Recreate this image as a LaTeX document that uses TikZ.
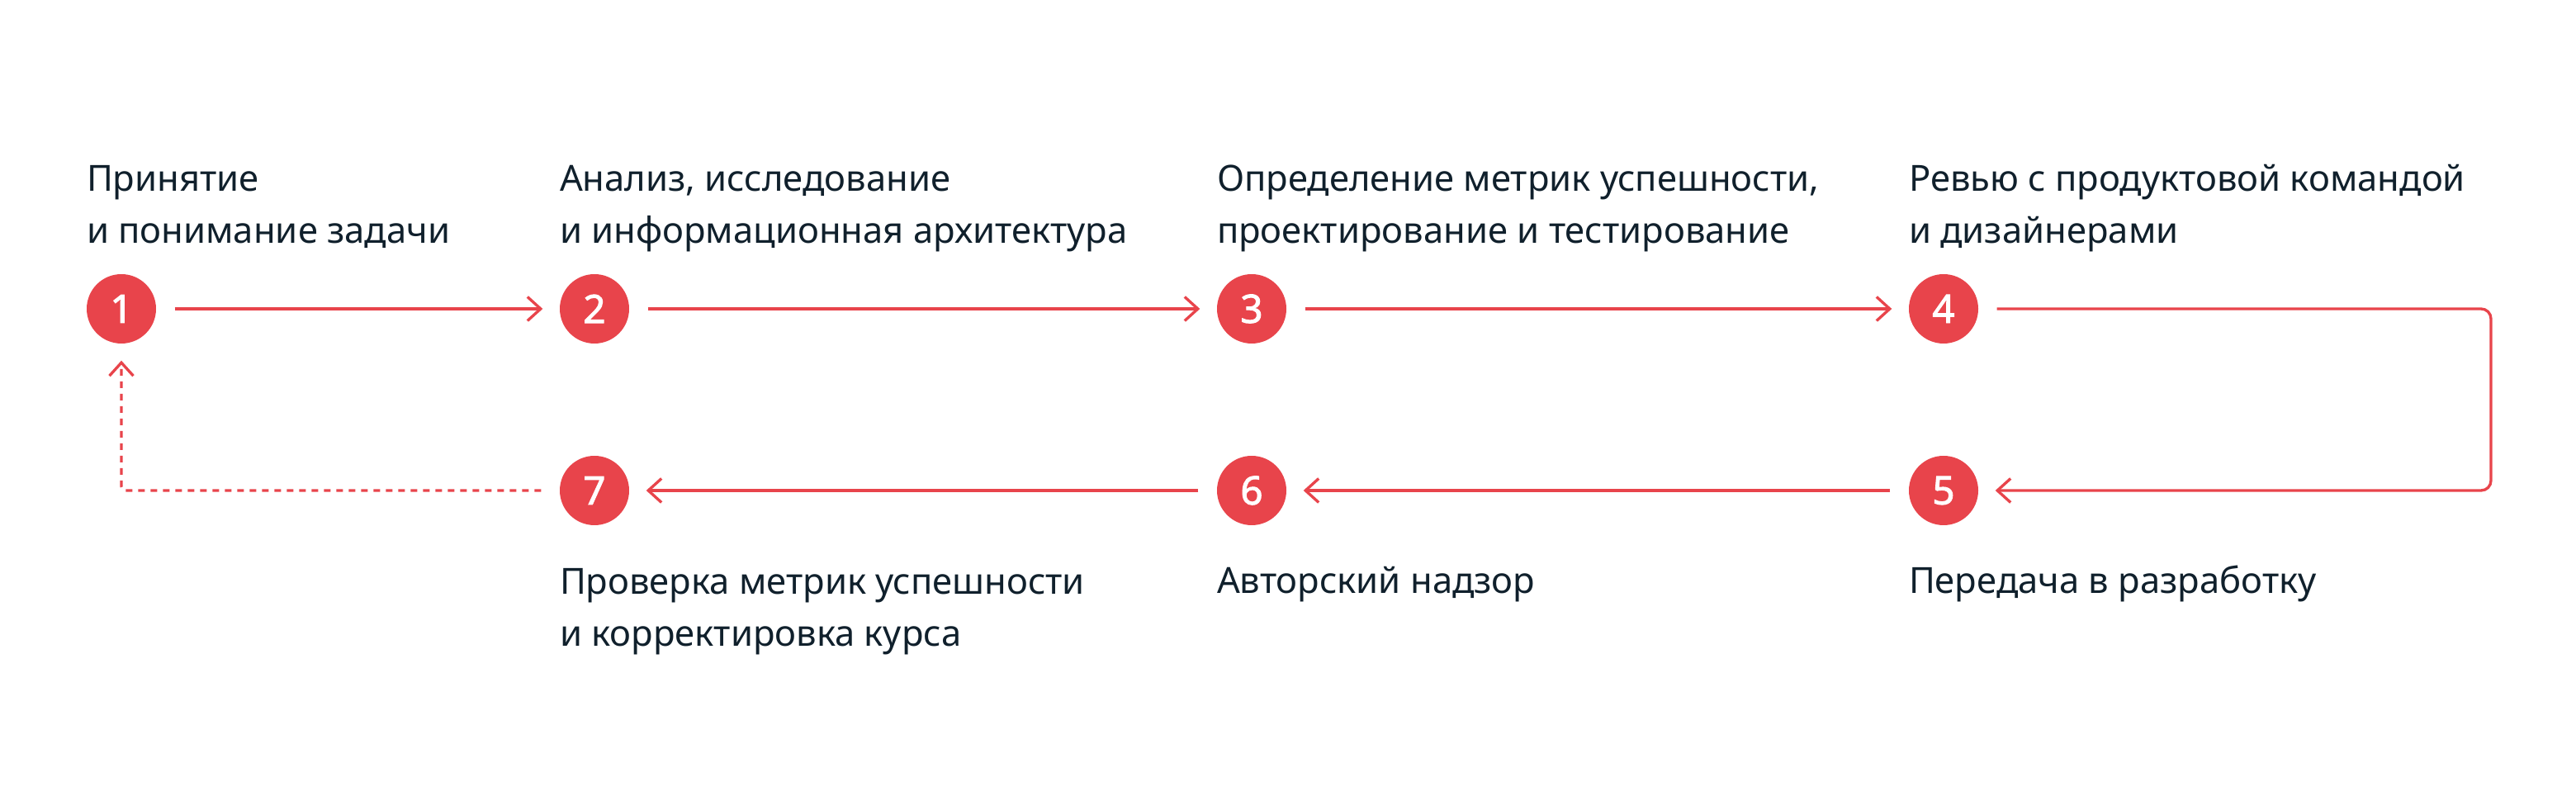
\documentclass[tikz,border=0pt]{standalone}
\usepackage{fontspec}
\setmainfont{Noto Sans}
\newfontfamily\numfont[FakeBold=2]{Noto Sans}
\usetikzlibrary{arrows.meta, positioning, calc}
\definecolor{stepred}{HTML}{E8444B}
\definecolor{inkblue}{HTML}{10202C}

\begin{document}
\begin{tikzpicture}[
  stepdot/.style={circle, fill=stepred, minimum size=0.84cm, inner sep=0pt,
    text=white, font=\numfont\fontsize{13.5}{13.5}\selectfont},
  caption/.style={align=left, inner sep=0pt, text=inkblue,
    font=\fontsize{12.4}{18.2}\selectfont},
  flow/.style={draw=stepred, line width=0.95pt,
    -{Straight Barb[length=0.16cm, width=0.29cm]},
    shorten <=0.22cm, shorten >=0.2cm, rounded corners=0.12cm}]
  \useasboundingbox (0,0) rectangle (31.2,9.7);
  % steps
  \node[stepdot] (n1) at (1.47,5.96)  {1};
  \node[stepdot] (n2) at (7.20,5.96)  {2};
  \node[stepdot] (n3) at (15.16,5.96) {3};
  \node[stepdot] (n4) at (23.54,5.96) {4};
  \node[stepdot] (n5) at (23.54,3.76) {5};
  \node[stepdot] (n6) at (15.16,3.76) {6};
  \node[stepdot] (n7) at (7.20,3.76)  {7};
  % captions (base = last line)
  \node[caption, anchor=base west] (t1) at ($(n1.west)+(0,0.79)$) {Принятие\\и понимание задачи};
  \node[caption, anchor=base west] (t2) at ($(n2.west)+(0,0.79)$) {Анализ, исследование\\и информационная архитектура};
  \node[caption, anchor=base west] (t3) at ($(n3.west)+(0,0.79)$) {Определение метрик успешности,\\проектирование и тестирование};
  \node[caption, anchor=base west] (t4) at ($(n4.west)+(0,0.79)$) {Ревью с продуктовой командой\\и дизайнерами};
  \node[caption, anchor=base west] (t5) at ($(n5.west)+(0,-1.25)$) {Передача в разработку};
  \node[caption, anchor=base west] (t6) at ($(n6.west)+(0,-1.25)$) {Авторский надзор};
  \node[caption, anchor=base west] (t7) at ($(n7.west)+(0,-1.89)$) {Проверка метрик успешности\\и корректировка курса};
  % connectors
  \coordinate (bend) at (30.17,0);
  \draw[flow] (n1) -- (n2);
  \draw[flow] (n2) -- (n3);
  \draw[flow] (n3) -- (n4);
  \draw[flow] (n4) -- (n4 -| bend) |- (n5);
  \draw[flow] (n5) -- (n6);
  \draw[flow] (n6) -- (n7);
  \draw[flow, rounded corners=0.05cm, dash pattern=on 0.08cm off 0.07cm] (n7) -| (n1);
\end{tikzpicture}
\end{document}
